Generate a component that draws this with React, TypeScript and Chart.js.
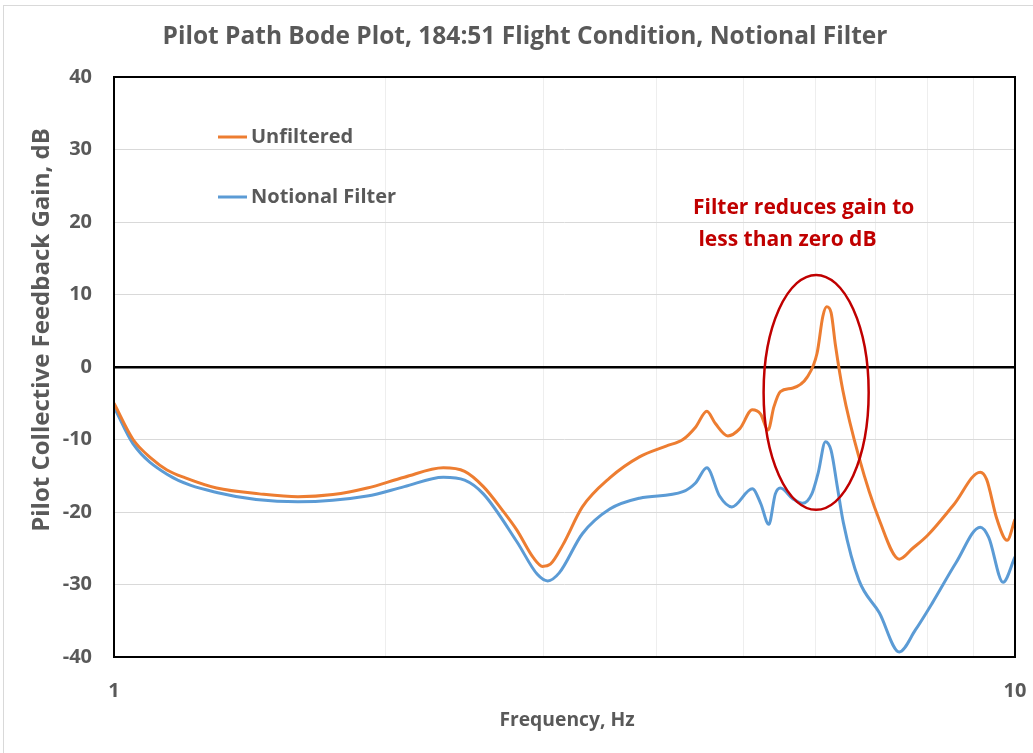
import React, { useEffect, useRef } from "react";
import { Chart, registerables } from "chart.js";

Chart.register(...registerables);

// ---- Data ----
const unfilteredFreq = [
  1.0, 1.05, 1.1, 1.145, 1.2, 1.3, 1.45, 1.6, 1.75, 1.91, 2.1, 2.32, 2.45, 2.57, 2.7, 2.8, 2.92, 2.99,
  3.05, 3.15, 3.31, 3.55, 3.83, 4.1, 4.28, 4.42, 4.55, 4.65, 4.8, 4.95, 5.11, 5.22, 5.32, 5.4, 5.49,
  5.67, 5.88, 6.03, 6.12, 6.18, 6.25, 6.32, 6.44, 6.71, 7.07, 7.44, 7.7, 8.0, 8.55, 9.15, 9.3, 9.55,
  9.8, 10.0,
];
const unfilteredGain = [
  -5.0, -10.0, -12.6, -14.2, -15.3, -16.7, -17.5, -17.9, -17.6, -16.7, -15.2, -13.9, -14.4, -16.5,
  -19.8, -22.5, -26.3, -27.5, -27.2, -24.5, -19.3, -15.3, -12.4, -10.9, -10.0, -8.3, -6.1, -7.8,
  -9.5, -8.5, -5.9, -6.5, -8.7, -5.5, -3.4, -2.9, -1.4, 1.9, 7.0, 8.3, 7.5, 3.0, -3.2, -12.4, -21.1,
  -26.5, -25.0, -23.2, -19.0, -14.5, -15.5, -21.0, -23.9, -21.0,
];

const filterFreq = [
  1.0, 1.05, 1.145, 1.3, 1.6, 1.91, 2.1, 2.32, 2.45, 2.57, 2.8, 2.95, 3.03, 3.12, 3.31, 3.55, 3.83,
  4.28, 4.42, 4.55, 4.7, 4.85, 5.11, 5.22, 5.33, 5.42, 5.49, 5.67, 5.81, 5.95, 6.05, 6.16, 6.25,
  6.35, 6.45, 6.71, 7.07, 7.44, 7.75, 8.1, 8.6, 9.15, 9.35, 9.7, 10.0,
];
const filterGain = [
  -5.5, -10.6, -14.8, -17.3, -18.6, -17.8, -16.5, -15.2, -15.6, -17.5, -24.1, -28.6, -29.5, -28.4,
  -23.0, -19.6, -18.1, -17.2, -16.0, -13.9, -17.8, -19.3, -16.8, -18.8, -21.7, -17.5, -16.7, -18.2,
  -18.8, -17.5, -14.5, -10.3, -11.5, -16.5, -21.5, -29.4, -33.9, -39.3, -36.3, -32.5, -27.0, -22.1,
  -23.5, -29.7, -26.2,
];

const seriesNames = ["Unfiltered", "Notional Filter"];
const xGridValues = [1, 2, 3, 4, 5, 6, 7, 8, 9, 10];
const xTickLabels = [1, 10];
const yMin = -40;
const yMax = 40;
const yStep = 10;

// Ellipse highlighting the resonance (data coordinates: Hz / dB)
const ellipseFreqRange = [5.26, 6.88];
const ellipseGainRange = [-19.7, 12.7];

const titleText = "Pilot Path Bode Plot, 184:51 Flight Condition, Notional Filter";
const xTitleText = "Frequency, Hz";
const yTitleText = "Pilot Collective Feedback Gain, dB";
const noteLines = ["Filter reduces gain to", " less than zero dB"];

const ORANGE = "#ED7D31";
const BLUE = "#5B9BD5";
const RED = "#C00000";
const TEXT = "#595959";
const FONT = "'Open Sans', Lato, sans-serif";

export default function App() {
  const ref = useRef<HTMLCanvasElement | null>(null);

  useEffect(() => {
    if (!ref.current) return;

    const decorPlugin = {
      id: "decor",
      afterDatasetsDraw(chart: any) {
        const { ctx, chartArea, scales } = chart;
        const xs = scales.x;
        const ys = scales.y;
        ctx.save();
        // plot frame
        ctx.strokeStyle = "#000";
        ctx.lineWidth = 2;
        ctx.strokeRect(chartArea.left, chartArea.top, chartArea.right - chartArea.left, chartArea.bottom - chartArea.top);

        // ellipse
        const x0 = xs.getPixelForValue(ellipseFreqRange[0]);
        const x1 = xs.getPixelForValue(ellipseFreqRange[1]);
        const y0 = ys.getPixelForValue(ellipseGainRange[1]);
        const y1 = ys.getPixelForValue(ellipseGainRange[0]);
        ctx.beginPath();
        ctx.ellipse((x0 + x1) / 2, (y0 + y1) / 2, (x1 - x0) / 2, (y1 - y0) / 2, 0, 0, Math.PI * 2);
        ctx.strokeStyle = RED;
        ctx.lineWidth = 2.5;
        ctx.stroke();

        // legend inside plot
        ctx.font = `bold 20px ${FONT}`;
        ctx.textBaseline = "middle";
        ctx.textAlign = "left";
        const legendColors = [ORANGE, BLUE];
        const legendY = [137, 197];
        seriesNames.forEach((name, i) => {
          ctx.strokeStyle = legendColors[i];
          ctx.lineWidth = 3;
          ctx.beginPath();
          ctx.moveTo(218, legendY[i]);
          ctx.lineTo(247, legendY[i]);
          ctx.stroke();
          ctx.fillStyle = TEXT;
          ctx.fillText(name, 251, legendY[i]);
        });

        // annotation
        ctx.fillStyle = RED;
        ctx.font = `bold 21px ${FONT}`;
        ctx.fillText(noteLines[0], 693, 208);
        ctx.fillText(noteLines[1], 693, 240);
        ctx.restore();
      },
      afterDraw(chart: any) {
        const { ctx } = chart;
        ctx.save();
        // outer chart border
        ctx.strokeStyle = "#d9d9d9";
        ctx.lineWidth = 1;
        ctx.strokeRect(3.5, 5.5, 1100, 800);
        ctx.fillStyle = TEXT;
        ctx.textAlign = "center";
        ctx.font = `bold 24.5px ${FONT}`;
        ctx.textBaseline = "alphabetic";
        ctx.fillText(titleText, 525, 44);
        ctx.font = `bold 19.3px ${FONT}`;
        ctx.textBaseline = "middle";
        ctx.fillText(xTitleText, 567, 721);
        ctx.font = `bold 24px ${FONT}`;
        ctx.translate(42, 330);
        ctx.rotate(-Math.PI / 2);
        ctx.fillText(yTitleText, 0, 0);
        ctx.restore();
      },
    };

    const chart = new Chart(ref.current, {
      type: "line",
      data: {
        datasets: [
          {
            label: seriesNames[0],
            data: unfilteredFreq.map((f, i) => ({ x: f, y: unfilteredGain[i] })),
            borderColor: ORANGE,
            backgroundColor: ORANGE,
            borderWidth: 3,
            pointRadius: 0,
            cubicInterpolationMode: "monotone",
          },
          {
            label: seriesNames[1],
            data: filterFreq.map((f, i) => ({ x: f, y: filterGain[i] })),
            borderColor: BLUE,
            backgroundColor: BLUE,
            borderWidth: 3,
            pointRadius: 0,
            cubicInterpolationMode: "monotone",
          },
        ],
      },
      options: {
        animation: false,
        responsive: false,
        layout: { padding: { top: 77, right: 18, bottom: 0, left: 0 } },
        plugins: {
          legend: { display: false },
          tooltip: { enabled: false },
          title: { display: false },
        },
        scales: {
          x: {
            type: "logarithmic",
            min: 1,
            max: 10,
            afterBuildTicks: (s: any) => {
              s.ticks = xGridValues.map((v) => ({ value: v }));
            },
            afterFit: (s: any) => {
              s.height = 96;
              s.paddingLeft = 0;
              s.paddingRight = 0;
            },
            border: { display: false },
            grid: { color: "#eeeeee", lineWidth: 1, drawTicks: false },
            ticks: {
              autoSkip: false,
              maxRotation: 0,
              padding: 22,
              color: TEXT,
              font: { family: FONT, size: 20, weight: "bold" },
              callback: (v: any) => (xTickLabels.includes(Number(v)) ? String(v) : ""),
            },
          },
          y: {
            min: yMin,
            max: yMax,
            afterFit: (s: any) => {
              s.width = 114;
              s.paddingTop = 0;
              s.paddingBottom = 0;
            },
            border: { display: false },
            grid: {
              drawTicks: false,
              color: (c: any) => (c.tick && c.tick.value === 0 ? "#000" : "#d9d9d9"),
              lineWidth: (c: any) => (c.tick && c.tick.value === 0 ? 2.5 : 1),
            },
            ticks: {
              stepSize: yStep,
              padding: 22,
              color: TEXT,
              font: { family: FONT, size: 20, weight: "bold" },
            },
          },
        },
      },
      plugins: [decorPlugin],
    } as any);

    return () => chart.destroy();
  }, []);

  return (
    <div style={{ position: "absolute", left: 0, top: 0, width: 1033, height: 753, background: "#fff" }}>
      <canvas ref={ref} width={1033} height={753} style={{ display: "block", width: 1033, height: 753 }} />
    </div>
  );
}
